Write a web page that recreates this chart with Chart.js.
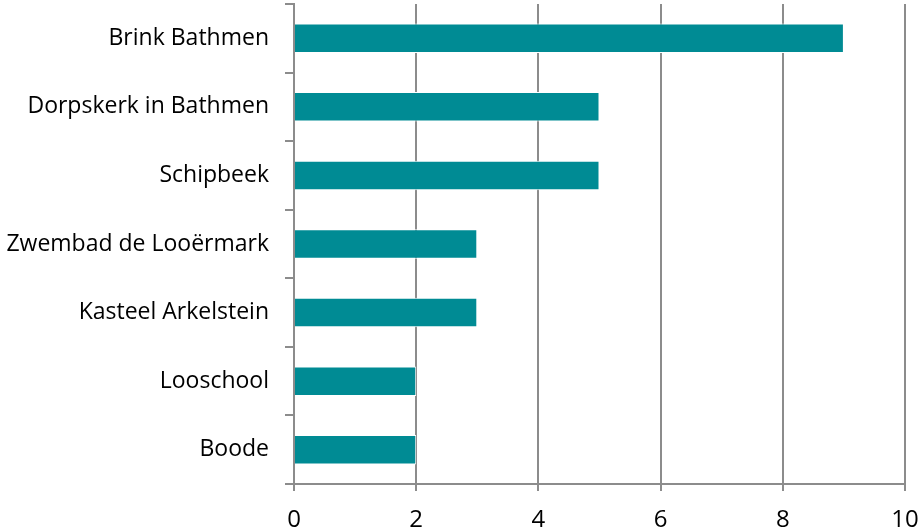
<!DOCTYPE html>
<html>
<head>
<meta charset="utf-8">
<script src="https://cdn.jsdelivr.net/npm/chart.js@4/dist/chart.umd.min.js"></script>
<style>
  html, body { margin: 0; padding: 0; background: #fff; }
  #wrap { width: 920px; height: 531px; }
</style>
</head>
<body>
<div id="wrap"><canvas id="chart" width="920" height="531"></canvas></div>
<script>
// categories, top to bottom
const places = ['Brink Bathmen', 'Dorpskerk in Bathmen', 'Schipbeek', 'Zwembad de Looërmark', 'Kasteel Arkelstein', 'Looschool', 'Boode'];
const counts = [9, 5, 5, 3, 3, 2, 2];
const xTicks = [0, 2, 4, 6, 8, 10];

const gridGray = '#8c8c8c';
const labelFont = { family: 'Open Sans', size: 23 };

new Chart(document.getElementById('chart').getContext('2d'), {
    type: 'bar',
    data: {
        labels: places,
        datasets: [{
            data: counts,
            backgroundColor: '#008b94',
            borderColor: '#ffffff',
            borderWidth: 1,
            categoryPercentage: 1,
            barPercentage: 0.43
        }]
    },
    options: {
        indexAxis: 'y',
        responsive: false,
        animation: false,
        layout: { padding: { top: 4, right: 15, left: 0, bottom: 0 } },
        plugins: {
            legend: { display: false },
            tooltip: { enabled: false }
        },
        scales: {
            x: {
                min: xTicks[0],
                max: xTicks[xTicks.length - 1],
                afterBuildTicks: axis => { axis.ticks = xTicks.map(v => ({ value: v })); },
                afterFit: axis => { axis.paddingLeft = 0; axis.paddingRight = 0; axis.height = 47; },
                grid: {
                    color: gridGray,
                    lineWidth: 2,
                    tickLength: 7
                },
                border: { color: gridGray, width: 2 },
                ticks: {
                    color: '#000',
                    padding: 15,
                    font: { family: 'Open Sans', size: 24 }
                }
            },
            y: {
                afterFit: axis => { axis.width = 294; axis.paddingTop = 0; axis.paddingBottom = 0; },
                grid: {
                    offset: true,
                    drawOnChartArea: false,
                    color: gridGray,
                    lineWidth: 2,
                    tickLength: 9
                },
                border: { color: gridGray, width: 2 },
                ticks: {
                    color: '#000',
                    padding: 16,
                    font: labelFont
                }
            }
        }
    }
});
</script>
</body>
</html>
